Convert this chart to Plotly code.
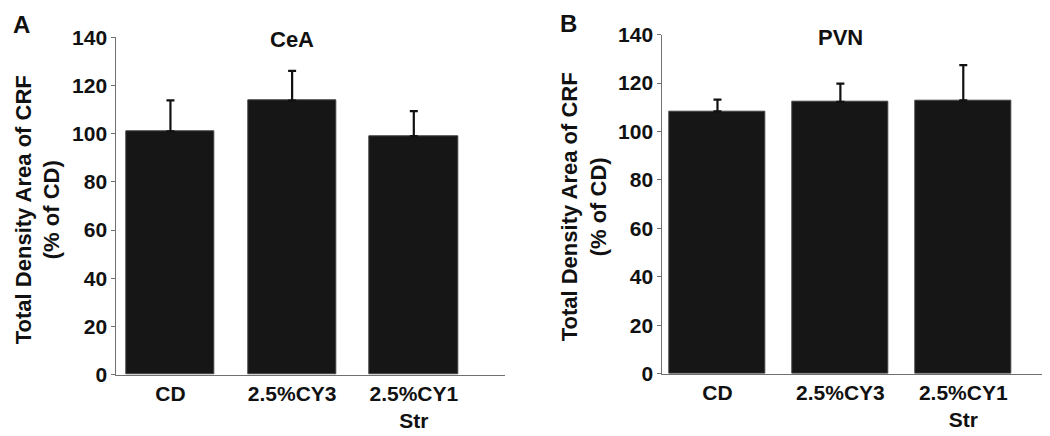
import plotly.graph_objects as go

categories = ["CD", "2.5%CY3", "2.5%CY1<br>Str"]
cea_values = [101.0, 113.7, 99.0]
cea_errors = [12.8, 12.4, 10.4]
pvn_values = [108.3, 112.3, 112.9]
pvn_errors = [4.9, 7.5, 14.5]
y_ticks = [0, 20, 40, 60, 80, 100, 120, 140]
panel_titles = ["CeA", "PVN"]
panel_letters = ["A", "B"]
y_title = "Total Density Area of CRF<br>(% of CD)"

FONT = "Liberation Sans, Arial, sans-serif"
BAR = "#161616"
AXIS = "#707070"
TXT = "#111111"

W, H = 1050, 436


def fx(px):
    return px / W


def fy(py):
    return 1 - py / H


fig = go.Figure()

for i, (vals, errs, width) in enumerate([(cea_values, cea_errors, 0.726), (pvn_values, pvn_errors, 0.78)]):
    xa = "x" if i == 0 else "x2"
    ya = "y" if i == 0 else "y2"
    fig.add_trace(go.Bar(
        x=list(range(len(categories))), y=vals, width=width,
        marker=dict(color=BAR, line=dict(color="#404040", width=1)),
        error_y=dict(type="data", array=errs, arrayminus=[0] * len(errs), symmetric=False,
                     color=TXT, thickness=2.2, width=4),
        xaxis=xa, yaxis=ya, showlegend=False, hoverinfo="y",
    ))

tick_font = dict(family=FONT, size=21, color=TXT, weight="bold")

axis_common_x = dict(
    tickmode="array", tickvals=list(range(len(categories))), ticktext=categories,
    showline=True, linecolor=AXIS, linewidth=1, ticks="",
    showgrid=False, zeroline=False, tickfont=tick_font,
    automargin=False,
)
axis_common_y = dict(
    range=[0, 140], tickmode="array", tickvals=y_ticks, showline=True, linecolor=AXIS,
    linewidth=1, ticks="outside", ticklen=4, tickcolor=AXIS, tickwidth=1, showgrid=False,
    zeroline=False, tickfont=tick_font, automargin=False,
)

fig.update_layout(
    width=W, height=H,
    margin=dict(l=0, r=0, t=0, b=0),
    paper_bgcolor="white", plot_bgcolor="white",
    xaxis=dict(domain=[fx(108.3), fx(496.7)], range=[-0.445, 2.747], anchor="y", **axis_common_x),
    yaxis=dict(domain=[fy(366.7), fy(29.3)], anchor="x", **axis_common_y),
    xaxis2=dict(domain=[fx(654.3), fx(1045)], range=[-0.449, 2.73], anchor="y2", **axis_common_x),
    yaxis2=dict(domain=[fy(365.7), fy(26.7)], anchor="x2", **axis_common_y),
    bargap=0,
)

# panel titles, centred over the middle bar
for i, (t, ty) in enumerate(zip(panel_titles, [31.2, 29.2])):
    fig.add_annotation(text=t, xref="x" if i == 0 else "x2", yref="paper", x=1, y=fy(ty),
                       showarrow=False, xanchor="center", yanchor="middle",
                       font=dict(family=FONT, size=22, color=TXT, weight="bold"))

# panel letters
for letter, (lx, ly) in zip(panel_letters, [(13.5, 16.7), (560, 15.7)]):
    fig.add_annotation(text=letter, xref="paper", yref="paper", x=fx(lx), y=fy(ly),
                       showarrow=False, xanchor="center", yanchor="middle",
                       font=dict(family=FONT, size=24, color=TXT, weight="bold"))

# y-axis titles
for (tx, ty) in [(29.5, 201.7), (576.3, 199)]:
    fig.add_annotation(text=y_title, xref="paper", yref="paper", x=fx(tx), y=fy(ty),
                       showarrow=False, xanchor="center", yanchor="middle", textangle=-90,
                       font=dict(family=FONT, size=22, color=TXT, weight="bold"))

fig.write_html("out.html")
